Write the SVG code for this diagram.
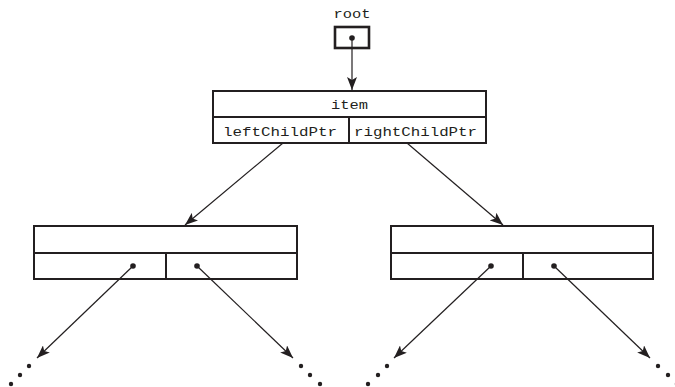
<svg xmlns="http://www.w3.org/2000/svg" width="675" height="387" viewBox="0 0 675 387">
<style>
.box{fill:#fff;stroke:#231f20;stroke-width:2}
.div{stroke:#231f20;stroke-width:2;fill:none}
.edge{stroke:#231f20;stroke-width:1.2;fill:none;marker-end:url(#ah)}
.ptr{fill:#231f20}
.ell{fill:#231f20}
.t{font-family:"Liberation Mono",monospace;font-size:13px;fill:#231f20;text-anchor:middle}
</style>
<defs>
<marker id="ah" markerUnits="userSpaceOnUse" markerWidth="14" markerHeight="10" refX="13" refY="5" orient="auto">
<path d="M0,0 L13,5 L0,10 L3,5 Z" fill="#231f20"/>
</marker>
</defs>
<g id="root">
<text class="t" x="352" y="18" textLength="37" lengthAdjust="spacingAndGlyphs">root</text>
<rect class="box" x="335" y="27" width="34" height="21" style="stroke-width:2.6"/>
<circle class="ptr" cx="352" cy="38" r="2.8"/>
</g>
<g id="node-top">
<rect class="box" x="213" y="91" width="273" height="52"/>
<line class="div" x1="213" y1="117" x2="486" y2="117"/>
<line class="div" x1="349" y1="117" x2="349" y2="143"/>
<text class="t" x="349.5" y="109" textLength="37" lengthAdjust="spacingAndGlyphs">item</text>
<text class="t" x="280" y="136" textLength="114" lengthAdjust="spacingAndGlyphs">leftChildPtr</text>
<text class="t" x="415.5" y="136" textLength="123" lengthAdjust="spacingAndGlyphs">rightChildPtr</text>
</g>
<g id="node-left">
<rect class="box" x="34" y="226" width="263" height="53"/>
<line class="div" x1="34" y1="253" x2="297" y2="253"/>
<line class="div" x1="166" y1="253" x2="166" y2="279"/>
<circle class="ptr" cx="133" cy="266" r="2.8"/>
<circle class="ptr" cx="197" cy="266" r="2.8"/>
</g>
<g id="node-right">
<rect class="box" x="391" y="226" width="262" height="53"/>
<line class="div" x1="391" y1="253" x2="653" y2="253"/>
<line class="div" x1="523" y1="253" x2="523" y2="279"/>
<circle class="ptr" cx="491" cy="266" r="2.8"/>
<circle class="ptr" cx="554" cy="266" r="2.8"/>
</g>
<g id="ellipses">
<circle class="ell" cx="29" cy="366" r="2.2"/><circle class="ell" cx="20" cy="375" r="2.2"/><circle class="ell" cx="11" cy="384" r="2.2"/>
<circle class="ell" cx="301" cy="366" r="2.2"/><circle class="ell" cx="310" cy="375" r="2.2"/><circle class="ell" cx="320" cy="384" r="2.2"/>
<circle class="ell" cx="387" cy="366" r="2.2"/><circle class="ell" cx="378" cy="375" r="2.2"/><circle class="ell" cx="368" cy="384" r="2.2"/>
<circle class="ell" cx="658" cy="366" r="2.2"/><circle class="ell" cx="668" cy="375" r="2.2"/><circle class="ell" cx="677" cy="384" r="2.2"/>
</g>
<g id="connectors">
<line class="edge" x1="352" y1="38" x2="352" y2="90"/>
<line class="edge" x1="283" y1="143" x2="185" y2="225"/>
<line class="edge" x1="407" y1="143" x2="503" y2="225"/>
<line class="edge" x1="133" y1="266" x2="37" y2="358"/>
<line class="edge" x1="197" y1="266" x2="293" y2="358"/>
<line class="edge" x1="491" y1="266" x2="394" y2="358"/>
<line class="edge" x1="554" y1="266" x2="650" y2="358"/>
</g>
</svg>
